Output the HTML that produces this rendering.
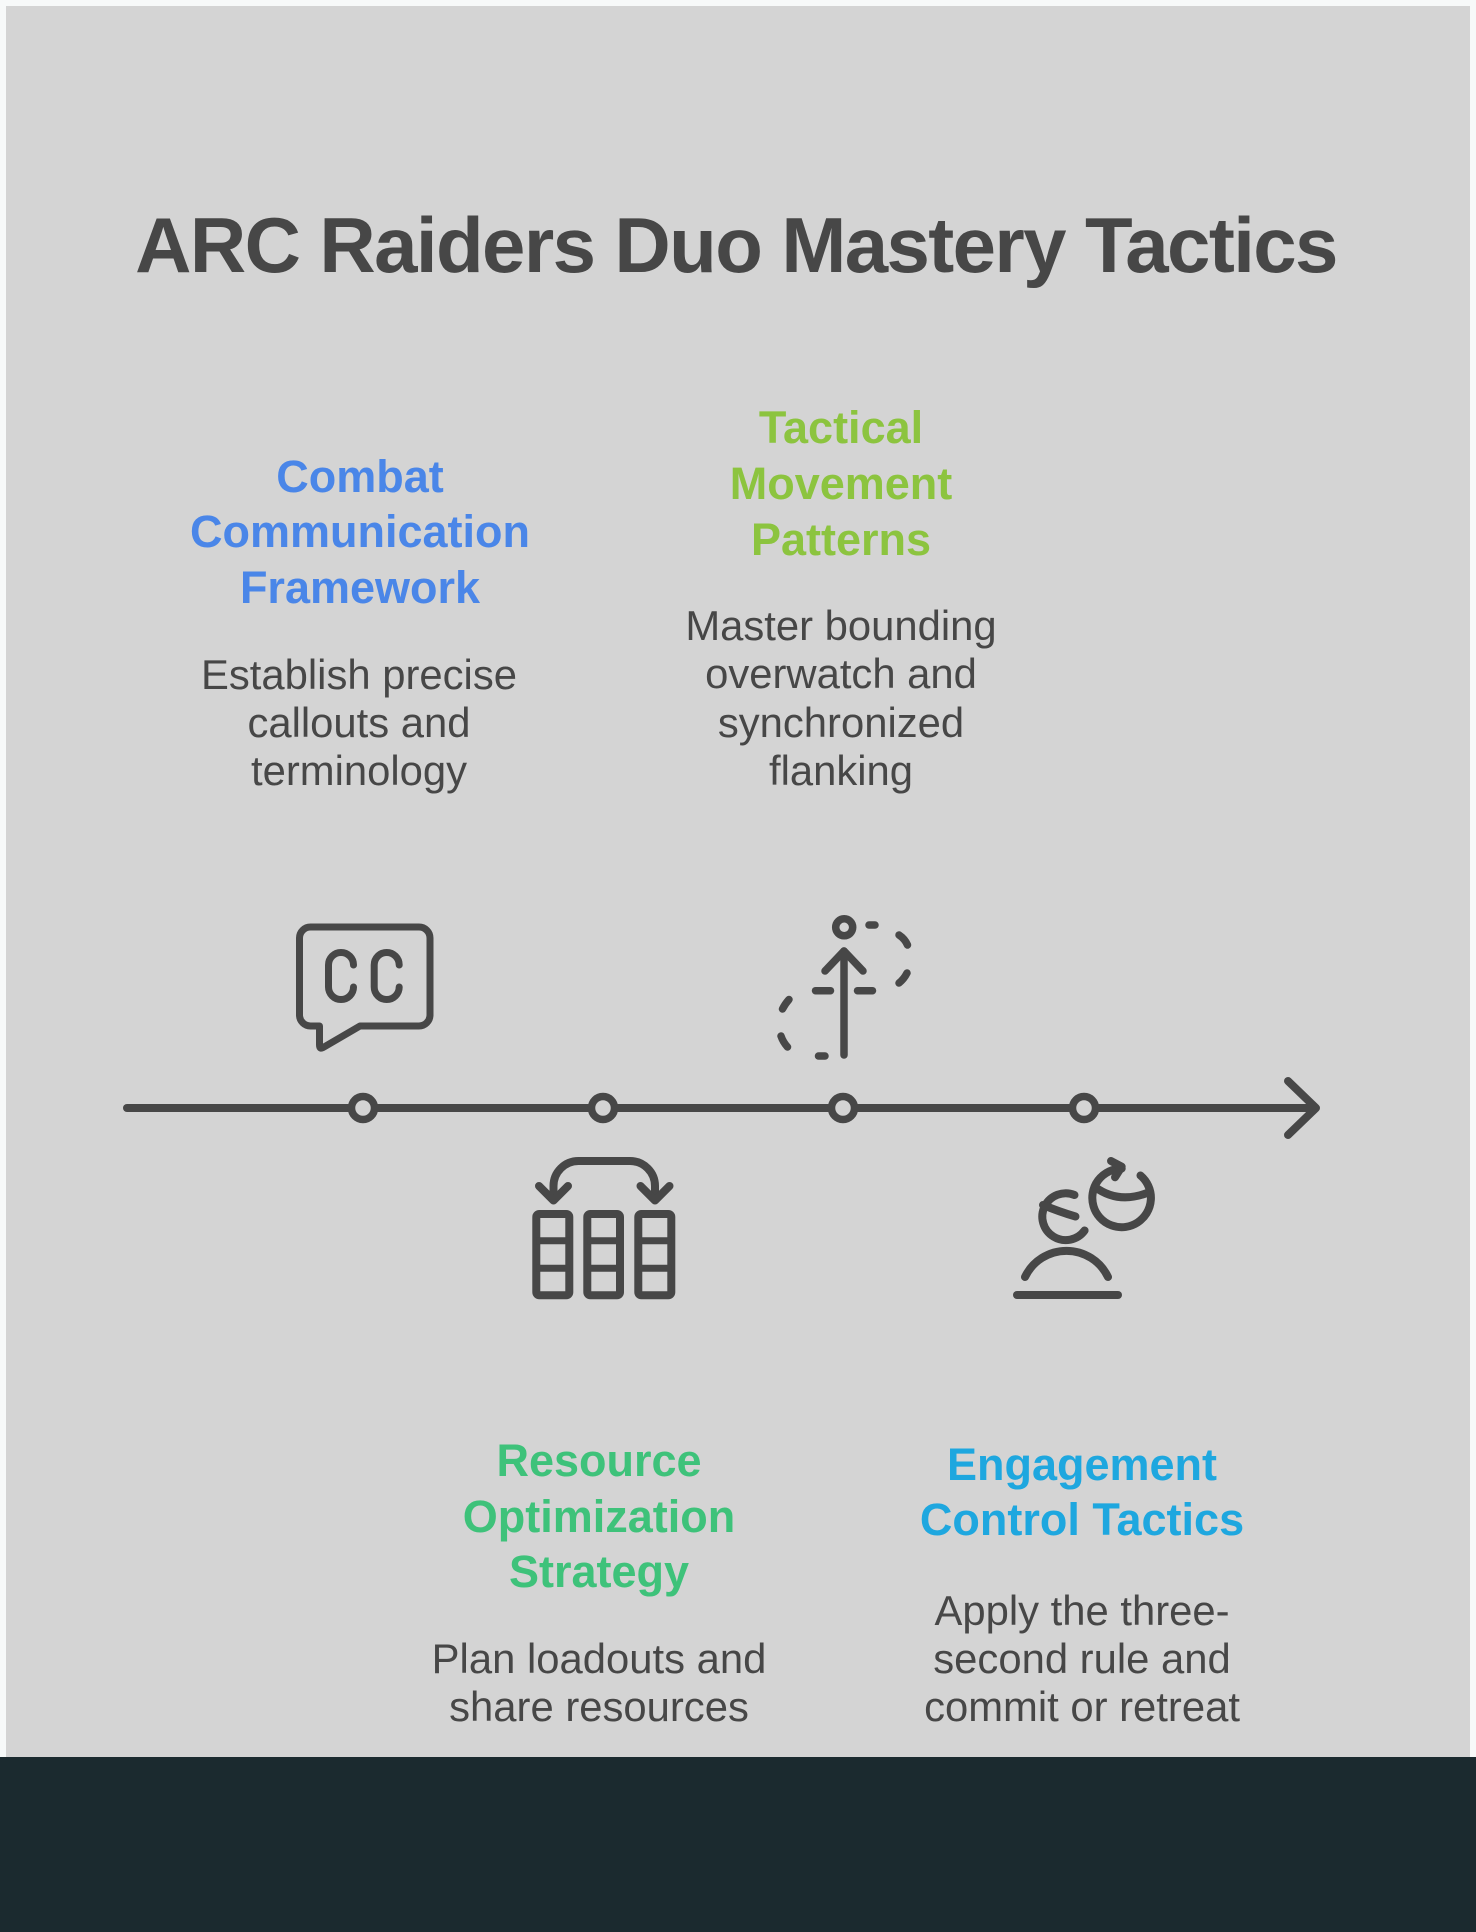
<!DOCTYPE html>
<html>
<head>
<meta charset="utf-8">
<style>
  html, body { margin:0; padding:0; }
  body { width:1476px; height:1932px; position:relative; overflow:hidden; background:#f7f9f9; font-family:"Liberation Sans", Arial, sans-serif; }
  .panel { position:absolute; left:6px; top:6px; width:1464px; height:1751px; background:#d4d4d4; }
  .band { position:absolute; left:0; top:1757px; width:1476px; height:175px; background:#1b2a2f; }
  .t { position:absolute; width:700px; text-align:center; white-space:nowrap; }
  .title { font-weight:bold; font-size:78px; line-height:78px; color:#474747; letter-spacing:-1.6px; }
  .h { font-weight:bold; font-size:45px; line-height:45px; }
  .d { font-size:41.8px; line-height:41.8px; color:#474747; }
  .blue { color:#4a86e8; }
  .green { color:#8cc43f; }
  .teal { color:#3ec27a; }
  .cyan { color:#1ea7df; }
  svg { position:absolute; left:0; top:0; }
</style>
</head>
<body>
<div class="panel"></div>
<div class="band"></div>

<div class="t title" style="left:36px;width:1400px;top:206px;">ARC Raiders Duo Mastery Tactics</div>

<!-- Column 1 -->
<div class="t h blue" style="left:10px;top:453.9px;">Combat</div>
<div class="t h blue" style="left:10px;top:509.4px;">Communication</div>
<div class="t h blue" style="left:10px;top:564.9px;">Framework</div>
<div class="t d" style="left:9px;top:653.6px;">Establish precise</div>
<div class="t d" style="left:9px;top:701.6px;">callouts and</div>
<div class="t d" style="left:9px;top:749.6px;">terminology</div>

<!-- Column 2 -->
<div class="t h green" style="left:491px;top:404.9px;">Tactical</div>
<div class="t h green" style="left:491px;top:460.9px;">Movement</div>
<div class="t h green" style="left:491px;top:516.9px;">Patterns</div>
<div class="t d" style="left:491px;top:604.6px;">Master bounding</div>
<div class="t d" style="left:491px;top:652.6px;">overwatch and</div>
<div class="t d" style="left:491px;top:701.6px;">synchronized</div>
<div class="t d" style="left:491px;top:749.6px;">flanking</div>

<!-- Column 3 -->
<div class="t h teal" style="left:249px;top:1437.9px;">Resource</div>
<div class="t h teal" style="left:249px;top:1493.9px;">Optimization</div>
<div class="t h teal" style="left:249px;top:1548.9px;">Strategy</div>
<div class="t d" style="left:249px;top:1637.6px;">Plan loadouts and</div>
<div class="t d" style="left:249px;top:1685.6px;">share resources</div>

<!-- Column 4 -->
<div class="t h cyan" style="left:732px;top:1441.9px;">Engagement</div>
<div class="t h cyan" style="left:732px;top:1496.9px;">Control Tactics</div>
<div class="t d" style="left:732px;top:1589.6px;">Apply the three-</div>
<div class="t d" style="left:732px;top:1637.6px;">second rule and</div>
<div class="t d" style="left:732px;top:1685.6px;">commit or retreat</div>

<svg width="1476" height="1932" viewBox="0 0 1476 1932" fill="none" stroke="#474747" stroke-linecap="round" stroke-linejoin="round">
  <!-- timeline -->
  <line x1="127" y1="1108" x2="1315" y2="1108" stroke-width="8"/>
  <polyline points="1288,1081 1316,1108 1288,1135" stroke-width="8"/>
  <g fill="#d4d4d4" stroke-width="7.5">
    <circle cx="363" cy="1108" r="11.5"/>
    <circle cx="603" cy="1108" r="11.5"/>
    <circle cx="843" cy="1108" r="11.5"/>
    <circle cx="1084" cy="1108" r="11.5"/>
  </g>

  <!-- CC icon -->
  <g stroke-width="7">
    <path d="M360 1026 H419 A11 11 0 0 0 430 1015 V938 A11 11 0 0 0 419 927 H310.5 A11 11 0 0 0 299.5 938 V1015 A11 11 0 0 0 310.5 1026 H319.5 V1045 Q319.5 1050 324 1047 Z"/>
    <path d="M353.5 965 A12.5 12.5 0 0 0 328.5 965 V987 A12.5 12.5 0 0 0 353.5 987"/>
    <path d="M399.2 965 A12.5 12.5 0 0 0 374.2 965 V987 A12.5 12.5 0 0 0 399.2 987"/>
  </g>

  <!-- Movement icon -->
  <g stroke-width="7.5">
    <circle cx="844.2" cy="927.3" r="8.5"/>
    <line x1="844" y1="951" x2="844" y2="1055"/>
    <polyline points="825,971 844,951 863,971"/>
    <line x1="815.5" y1="990.7" x2="830.5" y2="990.7"/>
    <line x1="857.5" y1="990.7" x2="872.5" y2="990.7"/>
    <line x1="869" y1="925" x2="875" y2="925"/>
    <path d="M899 935 Q905 939 907.5 945"/>
    <path d="M907 973 Q904 979 899 983"/>
    <path d="M789 999.5 Q785 1004 782.5 1009"/>
    <path d="M781 1036 Q783 1042 787.5 1047"/>
    <line x1="818.5" y1="1056" x2="825" y2="1056"/>
  </g>

  <!-- Resource icon -->
  <g stroke-width="8">
    <rect x="536.3" y="1214" width="33" height="81.3" rx="3"/>
    <rect x="587.3" y="1214" width="32.7" height="81.3" rx="3"/>
    <rect x="638.3" y="1214" width="33" height="81.3" rx="3"/>
  </g>
  <g stroke-width="7" stroke-linecap="butt">
    <line x1="536.3" y1="1240.7" x2="569.3" y2="1240.7"/>
    <line x1="536.3" y1="1268.3" x2="569.3" y2="1268.3"/>
    <line x1="587.3" y1="1240.7" x2="620" y2="1240.7"/>
    <line x1="587.3" y1="1268.3" x2="620" y2="1268.3"/>
    <line x1="638.3" y1="1240.7" x2="671.3" y2="1240.7"/>
    <line x1="638.3" y1="1268.3" x2="671.3" y2="1268.3"/>
  </g>
  <g stroke-width="8">
    <path d="M553.5 1199 V1186 A25 25 0 0 1 578.5 1161 H630 A25 25 0 0 1 655 1186 V1199"/>
    <polyline points="539,1186 553.5,1200.5 568,1186"/>
    <polyline points="640.5,1186 655,1200.5 669.5,1186"/>
  </g>

  <!-- Engagement icon -->
  <g stroke-width="8">
    <line x1="1017" y1="1295" x2="1118" y2="1295"/>
    <path d="M1025 1277 A46 46 0 0 1 1108 1277"/>
    <path d="M1074.5 1195 A23.4 23.4 0 1 0 1084.6 1230.5"/>
    <path d="M1043 1205 Q1060 1212 1075.5 1216.5"/>
    <path d="M1140.5 1175.5 A29.3 29.3 0 1 1 1121.7 1168.6"/>
    <polyline points="1111,1161 1121.7,1166.7 1115,1177.3"/>
    <path d="M1095 1187 Q1118 1204 1147 1193"/>
  </g>
</svg>
</body>
</html>
